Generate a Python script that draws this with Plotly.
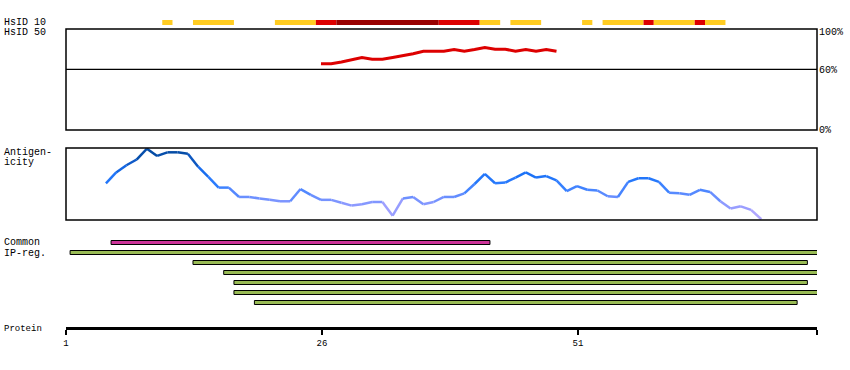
import plotly.graph_objects as go

W, H = 850, 370
L_PX, R_PX = 66, 817

# ---------------- data ----------------
protein_length = 73
axis_tick_vals = [1, 26, 51]
axis_tick_text = ["1", "26", "51"]

# HsID 10 coverage segments (residue ranges) and level 1=yellow, 2=red, 3=dark red
hsid10_start = [10, 13, 21, 25, 27, 37, 41, 44, 51, 53, 57, 58, 62, 63]
hsid10_end = [10, 16, 24, 26, 36, 40, 42, 46, 51, 56, 57, 61, 62, 64]
hsid10_level = [1, 1, 1, 2, 3, 2, 1, 1, 1, 1, 2, 1, 2, 1]

# HsID 50 identity (%)
hsid50_pos = list(range(25, 49))
hsid50_val = [65.7, 65.7, 67.3, 69.7, 71.7, 70, 70, 71.7, 73.5, 75.5,
              78, 78, 78, 79.7, 78, 79.7, 81.7, 80, 80, 78,
              79.7, 78, 79.7, 78]

# Antigenicity (relative score 0..1)
antigen_pos = list(range(4, 69))
antigen_val = [0.51, 0.66, 0.76, 0.84, 0.99,
               0.89, 0.94, 0.94, 0.92, 0.74,
               0.60, 0.45, 0.45, 0.32, 0.32,
               0.30, 0.28, 0.26, 0.26, 0.43,
               0.35, 0.28, 0.28, 0.24, 0.20,
               0.22, 0.25, 0.25, 0.06, 0.30,
               0.32, 0.22, 0.25, 0.32, 0.32,
               0.37, 0.50, 0.64, 0.51, 0.52,
               0.59, 0.66, 0.59, 0.61, 0.55,
               0.40, 0.47, 0.42, 0.41, 0.33,
               0.32, 0.53, 0.58, 0.58, 0.53,
               0.38, 0.37, 0.35, 0.42, 0.39,
               0.26, 0.16, 0.19, 0.14, 0.01]

# Common region and IP regions
common_start = [5]
common_end = [41]
ip_start = [1, 13, 16, 17, 17, 19]
ip_end = [73, 72, 73, 72, 73, 71]

# ---------------- helpers (layout only) ----------------
PX_PER_RES = 10.24
X_MAX = 1 + (R_PX - L_PX) / PX_PER_RES
RES_OFF0, RES_OFF1, RES_MID = 0.4, 1.4, 0.9


def py(p):
    return 1 - p / H


def pxx(p):
    return (p - L_PX) / (R_PX - L_PX)


FONT = "Liberation Mono"
level_color = {1: "#ffcc22", 2: "#dd0000", 3: "#990000"}

stops = [(0.0, (190, 172, 255)), (0.15, (160, 160, 255)), (0.3, (112, 145, 255)),
         (0.5, (45, 125, 255)), (0.65, (25, 112, 245)), (0.8, (15, 90, 200)),
         (1.0, (0, 70, 150))]


def ag_color(v):
    for (a, ca), (b, cb) in zip(stops[:-1], stops[1:]):
        if v <= b:
            t = (v - a) / (b - a) if b > a else 0
            c = [round(ca[i] + (cb[i] - ca[i]) * t) for i in range(3)]
            return "rgb(%d,%d,%d)" % tuple(c)
    return "rgb(%d,%d,%d)" % stops[-1][1]


fig = go.Figure()

# HsID 50 line
fig.add_trace(go.Scatter(
    x=[p + RES_MID for p in hsid50_pos], y=hsid50_val, mode="lines",
    line=dict(color="#dd0000", width=3), xaxis="x", yaxis="y",
    showlegend=False, hoverinfo="skip"))

# Antigenicity line, coloured per segment
for i in range(len(antigen_pos) - 1):
    v = (antigen_val[i] + antigen_val[i + 1]) / 2
    fig.add_trace(go.Scatter(
        x=[antigen_pos[i] + RES_MID, antigen_pos[i + 1] + RES_MID],
        y=[antigen_val[i], antigen_val[i + 1]], mode="lines",
        line=dict(color=ag_color(v), width=2.5), xaxis="x", yaxis="y2",
        showlegend=False, hoverinfo="skip"))

shapes = []
# HsID 10 bar
for s, e, lv in zip(hsid10_start, hsid10_end, hsid10_level):
    shapes.append(dict(type="rect", xref="x", yref="paper",
                       x0=s + RES_OFF0, x1=e + RES_OFF1, y0=py(25), y1=py(20),
                       fillcolor=level_color[lv], line=dict(width=0), layer="above"))

# panel boxes
for yr in ["y domain", "y2 domain"]:
    shapes.append(dict(type="rect", xref="paper", yref=yr, x0=0, x1=1, y0=0, y1=1,
                       line=dict(color="black", width=1.5), fillcolor="rgba(0,0,0,0)"))
shapes.append(dict(type="line", xref="paper", yref="y", x0=0, x1=1, y0=60, y1=60,
                   line=dict(color="black", width=1.2)))

# Common / IP bars
for s, e in zip(common_start, common_end):
    shapes.append(dict(type="rect", xref="x", yref="paper",
                       x0=s + RES_OFF0, x1=e + RES_OFF1, y0=py(244.5), y1=py(240.5),
                       fillcolor="#cc3399", line=dict(color="black", width=1)))
for k, (s, e) in enumerate(zip(ip_start, ip_end)):
    top = 250.5 + 10 * k
    shapes.append(dict(type="rect", xref="x", yref="paper",
                       x0=s + RES_OFF0, x1=e + RES_OFF1, y0=py(top + 4), y1=py(top),
                       fillcolor="#99bb55", line=dict(color="black", width=1)))

annotations = []
left_labels = [("HsID 10", 22.5), ("HsID 50", 33), ("Antigen-", 152.5), ("icity", 163),
               ("Common", 243), ("IP-reg.", 253)]
for t, yy in left_labels:
    annotations.append(dict(text=t, xref="paper", yref="paper", x=pxx(2), y=py(yy),
                            xanchor="left", yanchor="middle", showarrow=False,
                            font=dict(family=FONT, size=10, color="black")))
annotations.append(dict(text="Protein", xref="paper", yref="paper", x=pxx(2), y=py(329),
                        xanchor="left", yanchor="middle", showarrow=False,
                        font=dict(family=FONT, size=9, color="black")))
for t, v, sh in [("100%", 100, -4), ("60%", 60, -1), ("0%", 0, 0)]:
    annotations.append(dict(text=t, xref="paper", yref="y", x=1, y=v, xshift=0, yshift=sh,
                            xanchor="left", yanchor="middle", showarrow=False,
                            font=dict(family=FONT, size=10, color="black")))

fig.update_layout(
    width=W, height=H, margin=dict(l=L_PX, r=W - R_PX, t=0, b=0),
    paper_bgcolor="white", plot_bgcolor="white",
    xaxis=dict(range=[1, X_MAX], domain=[0, 1], anchor="free", position=py(328),
               showline=True, linecolor="black", linewidth=3,
               ticks="outside", ticklen=5, tickwidth=2, tickcolor="black",
               tickvals=axis_tick_vals + [X_MAX], ticktext=axis_tick_text + [""],
               tickfont=dict(family=FONT, size=9, color="black"),
               showgrid=False, zeroline=False, fixedrange=True),
    yaxis=dict(domain=[py(130), py(29)], range=[0, 100], visible=False, anchor="free", position=0),
    yaxis2=dict(domain=[py(220), py(148)], range=[0, 1], visible=False, anchor="free", position=0),
    shapes=shapes, annotations=annotations, showlegend=False,
)

fig.write_html("out.html", config={"displayModeBar": False, "staticPlot": True},
               post_script="document.body.style.margin='0';document.body.style.overflow='hidden';")
